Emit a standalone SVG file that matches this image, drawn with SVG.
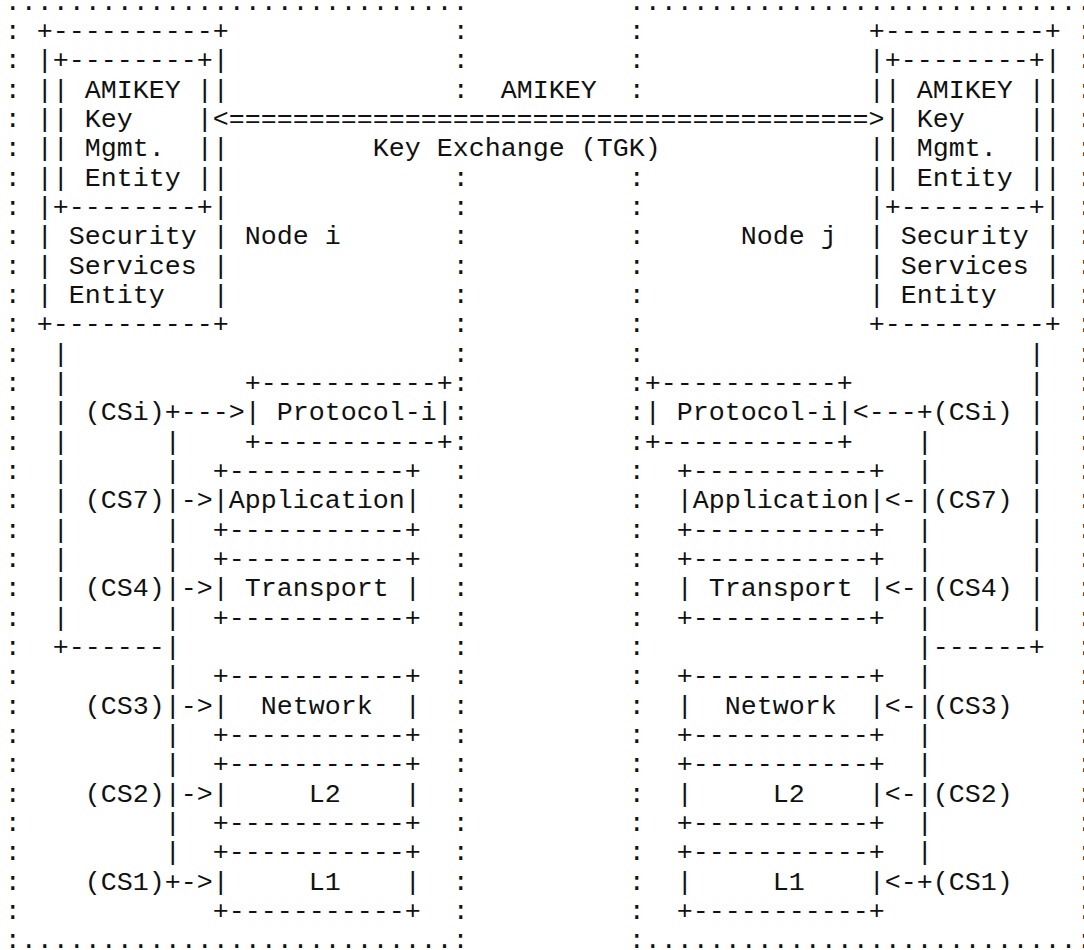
<svg xmlns="http://www.w3.org/2000/svg" width="1084" height="950" viewBox="0 0 1084 950">
  <!-- Character grid: column c starts at x = 4.7 + 16c, row n baseline at y = 9.7 + 29.333n -->
  <style>
    text { font-family: "Liberation Mono", "Courier New", monospace; font-size: 26.667px; fill: #111; white-space: pre; }
  </style>
  <rect width="1084" height="950" fill="#ffffff"/>

  <!-- Node i: dotted frame and label -->
  <g id="node-i">
    <text x="4.7" y="9.7">.............................</text>
    <text>
      <tspan x="4.7" y="39.0">:</tspan><tspan x="4.7" y="68.4">:</tspan><tspan x="4.7" y="97.7">:</tspan><tspan x="4.7" y="127.0">:</tspan><tspan x="4.7" y="156.4">:</tspan><tspan x="4.7" y="185.7">:</tspan><tspan x="4.7" y="215.0">:</tspan><tspan x="4.7" y="244.4">:</tspan><tspan x="4.7" y="273.7">:</tspan><tspan x="4.7" y="303.0">:</tspan><tspan x="4.7" y="332.4">:</tspan><tspan x="4.7" y="361.7">:</tspan><tspan x="4.7" y="391.0">:</tspan><tspan x="4.7" y="420.4">:</tspan><tspan x="4.7" y="449.7">:</tspan><tspan x="4.7" y="479.0">:</tspan><tspan x="4.7" y="508.4">:</tspan><tspan x="4.7" y="537.7">:</tspan><tspan x="4.7" y="567.0">:</tspan><tspan x="4.7" y="596.4">:</tspan><tspan x="4.7" y="625.7">:</tspan><tspan x="4.7" y="655.0">:</tspan><tspan x="4.7" y="684.4">:</tspan><tspan x="4.7" y="713.7">:</tspan><tspan x="4.7" y="743.0">:</tspan><tspan x="4.7" y="772.4">:</tspan><tspan x="4.7" y="801.7">:</tspan><tspan x="4.7" y="831.0">:</tspan><tspan x="4.7" y="860.4">:</tspan><tspan x="4.7" y="889.7">:</tspan><tspan x="4.7" y="919.0">:</tspan>
    </text>
    <text>
      <tspan x="452.7" y="39.0">:</tspan><tspan x="452.7" y="68.4">:</tspan><tspan x="452.7" y="97.7">:</tspan><tspan x="452.7" y="185.7">:</tspan><tspan x="452.7" y="215.0">:</tspan><tspan x="452.7" y="244.4">:</tspan><tspan x="452.7" y="273.7">:</tspan><tspan x="452.7" y="303.0">:</tspan><tspan x="452.7" y="332.4">:</tspan><tspan x="452.7" y="361.7">:</tspan><tspan x="452.7" y="391.0">:</tspan><tspan x="452.7" y="420.4">:</tspan><tspan x="452.7" y="449.7">:</tspan><tspan x="452.7" y="479.0">:</tspan><tspan x="452.7" y="508.4">:</tspan><tspan x="452.7" y="537.7">:</tspan><tspan x="452.7" y="567.0">:</tspan><tspan x="452.7" y="596.4">:</tspan><tspan x="452.7" y="625.7">:</tspan><tspan x="452.7" y="655.0">:</tspan><tspan x="452.7" y="684.4">:</tspan><tspan x="452.7" y="713.7">:</tspan><tspan x="452.7" y="743.0">:</tspan><tspan x="452.7" y="772.4">:</tspan><tspan x="452.7" y="801.7">:</tspan><tspan x="452.7" y="831.0">:</tspan><tspan x="452.7" y="860.4">:</tspan><tspan x="452.7" y="889.7">:</tspan><tspan x="452.7" y="919.0">:</tspan>
    </text>
    <text x="4.7" y="948.4">:...........................:</text>
    <text x="244.7" y="244.4">Node i</text>
  </g>

  <!-- Node j: dotted frame and label -->
  <g id="node-j">
    <text x="628.7" y="9.7">.............................</text>
    <text>
      <tspan x="628.7" y="39.0">:</tspan><tspan x="628.7" y="68.4">:</tspan><tspan x="628.7" y="97.7">:</tspan><tspan x="628.7" y="185.7">:</tspan><tspan x="628.7" y="215.0">:</tspan><tspan x="628.7" y="244.4">:</tspan><tspan x="628.7" y="273.7">:</tspan><tspan x="628.7" y="303.0">:</tspan><tspan x="628.7" y="332.4">:</tspan><tspan x="628.7" y="361.7">:</tspan><tspan x="628.7" y="391.0">:</tspan><tspan x="628.7" y="420.4">:</tspan><tspan x="628.7" y="449.7">:</tspan><tspan x="628.7" y="479.0">:</tspan><tspan x="628.7" y="508.4">:</tspan><tspan x="628.7" y="537.7">:</tspan><tspan x="628.7" y="567.0">:</tspan><tspan x="628.7" y="596.4">:</tspan><tspan x="628.7" y="625.7">:</tspan><tspan x="628.7" y="655.0">:</tspan><tspan x="628.7" y="684.4">:</tspan><tspan x="628.7" y="713.7">:</tspan><tspan x="628.7" y="743.0">:</tspan><tspan x="628.7" y="772.4">:</tspan><tspan x="628.7" y="801.7">:</tspan><tspan x="628.7" y="831.0">:</tspan><tspan x="628.7" y="860.4">:</tspan><tspan x="628.7" y="889.7">:</tspan><tspan x="628.7" y="919.0">:</tspan>
    </text>
    <text>
      <tspan x="1076.7" y="39.0">:</tspan><tspan x="1076.7" y="68.4">:</tspan><tspan x="1076.7" y="97.7">:</tspan><tspan x="1076.7" y="127.0">:</tspan><tspan x="1076.7" y="156.4">:</tspan><tspan x="1076.7" y="185.7">:</tspan><tspan x="1076.7" y="215.0">:</tspan><tspan x="1076.7" y="244.4">:</tspan><tspan x="1076.7" y="273.7">:</tspan><tspan x="1076.7" y="303.0">:</tspan><tspan x="1076.7" y="332.4">:</tspan><tspan x="1076.7" y="361.7">:</tspan><tspan x="1076.7" y="391.0">:</tspan><tspan x="1076.7" y="420.4">:</tspan><tspan x="1076.7" y="449.7">:</tspan><tspan x="1076.7" y="479.0">:</tspan><tspan x="1076.7" y="508.4">:</tspan><tspan x="1076.7" y="537.7">:</tspan><tspan x="1076.7" y="567.0">:</tspan><tspan x="1076.7" y="596.4">:</tspan><tspan x="1076.7" y="625.7">:</tspan><tspan x="1076.7" y="655.0">:</tspan><tspan x="1076.7" y="684.4">:</tspan><tspan x="1076.7" y="713.7">:</tspan><tspan x="1076.7" y="743.0">:</tspan><tspan x="1076.7" y="772.4">:</tspan><tspan x="1076.7" y="801.7">:</tspan><tspan x="1076.7" y="831.0">:</tspan><tspan x="1076.7" y="860.4">:</tspan><tspan x="1076.7" y="889.7">:</tspan><tspan x="1076.7" y="919.0">:</tspan>
    </text>
    <text x="628.7" y="948.4">:...........................:</text>
    <text x="740.7" y="244.4">Node j</text>
  </g>

  <!-- Security Services Entity, node i -->
  <g id="sse-i">
    <text x="36.7" y="39.0">+----------+</text>
    <text x="36.7" y="68.4">|          |</text>
    <text x="36.7" y="97.7">|          |</text>
    <text x="36.7" y="127.0">|</text>
    <text x="36.7" y="156.4">|          |</text>
    <text x="36.7" y="185.7">|          |</text>
    <text x="36.7" y="215.0">|          |</text>
    <text x="36.7" y="244.4">| Security |</text>
    <text x="36.7" y="273.7">| Services |</text>
    <text x="36.7" y="303.0">| Entity   |</text>
    <text x="36.7" y="332.4">+----------+</text>
  </g>

  <!-- AMIKEY Key Mgmt. Entity, node i -->
  <g id="amikey-i">
    <text x="52.7" y="68.4">+--------+</text>
    <text x="52.7" y="97.7">| AMIKEY |</text>
    <text x="52.7" y="127.0">| Key    |</text>
    <text x="52.7" y="156.4">| Mgmt.  |</text>
    <text x="52.7" y="185.7">| Entity |</text>
    <text x="52.7" y="215.0">+--------+</text>
  </g>

  <!-- Security Services Entity, node j -->
  <g id="sse-j">
    <text x="868.7" y="39.0">+----------+</text>
    <text x="868.7" y="68.4">|          |</text>
    <text x="868.7" y="97.7">|          |</text>
    <text x="1044.7" y="127.0">|</text>
    <text x="868.7" y="156.4">|          |</text>
    <text x="868.7" y="185.7">|          |</text>
    <text x="868.7" y="215.0">|          |</text>
    <text x="868.7" y="244.4">| Security |</text>
    <text x="868.7" y="273.7">| Services |</text>
    <text x="868.7" y="303.0">| Entity   |</text>
    <text x="868.7" y="332.4">+----------+</text>
  </g>

  <!-- AMIKEY Key Mgmt. Entity, node j -->
  <g id="amikey-j">
    <text x="884.7" y="68.4">+--------+</text>
    <text x="884.7" y="97.7">| AMIKEY |</text>
    <text x="884.7" y="127.0">| Key    |</text>
    <text x="884.7" y="156.4">| Mgmt.  |</text>
    <text x="884.7" y="185.7">| Entity |</text>
    <text x="884.7" y="215.0">+--------+</text>
  </g>

  <!-- Protocol stack, node i -->
  <g id="protocol-i">
    <text x="244.7" y="391.0">+-----------+</text>
    <text x="244.7" y="420.4">| Protocol-i|</text>
    <text x="244.7" y="449.7">+-----------+</text>
  </g>
  <g id="application-i">
    <text x="212.7" y="479.0">+-----------+</text>
    <text x="212.7" y="508.4">|Application|</text>
    <text x="212.7" y="537.7">+-----------+</text>
  </g>
  <g id="transport-i">
    <text x="212.7" y="567.0">+-----------+</text>
    <text x="212.7" y="596.4">| Transport |</text>
    <text x="212.7" y="625.7">+-----------+</text>
  </g>
  <g id="network-i">
    <text x="212.7" y="684.4">+-----------+</text>
    <text x="212.7" y="713.7">|  Network  |</text>
    <text x="212.7" y="743.0">+-----------+</text>
  </g>
  <g id="l2-i">
    <text x="212.7" y="772.4">+-----------+</text>
    <text x="212.7" y="801.7">|     L2    |</text>
    <text x="212.7" y="831.0">+-----------+</text>
  </g>
  <g id="l1-i">
    <text x="212.7" y="860.4">+-----------+</text>
    <text x="212.7" y="889.7">|     L1    |</text>
    <text x="212.7" y="919.0">+-----------+</text>
  </g>

  <!-- Protocol stack, node j -->
  <g id="protocol-j">
    <text x="644.7" y="391.0">+-----------+</text>
    <text x="644.7" y="420.4">| Protocol-i|</text>
    <text x="644.7" y="449.7">+-----------+</text>
  </g>
  <g id="application-j">
    <text x="676.7" y="479.0">+-----------+</text>
    <text x="676.7" y="508.4">|Application|</text>
    <text x="676.7" y="537.7">+-----------+</text>
  </g>
  <g id="transport-j">
    <text x="676.7" y="567.0">+-----------+</text>
    <text x="676.7" y="596.4">| Transport |</text>
    <text x="676.7" y="625.7">+-----------+</text>
  </g>
  <g id="network-j">
    <text x="676.7" y="684.4">+-----------+</text>
    <text x="676.7" y="713.7">|  Network  |</text>
    <text x="676.7" y="743.0">+-----------+</text>
  </g>
  <g id="l2-j">
    <text x="676.7" y="772.4">+-----------+</text>
    <text x="676.7" y="801.7">|     L2    |</text>
    <text x="676.7" y="831.0">+-----------+</text>
  </g>
  <g id="l1-j">
    <text x="676.7" y="860.4">+-----------+</text>
    <text x="676.7" y="889.7">|     L1    |</text>
    <text x="676.7" y="919.0">+-----------+</text>
  </g>

  <!-- Connectors -->
  <g id="connectors">
    <!-- AMIKEY key exchange between the two key management entities -->
    <text x="500.7" y="97.7">AMIKEY</text>
    <text x="212.7" y="127.0">&lt;========================================&gt;</text>
    <text x="372.7" y="156.4">Key Exchange (TGK)</text>

    <!-- node i: security services bus -->
    <text>
      <tspan x="52.7" y="361.7">|</tspan><tspan x="52.7" y="391.0">|</tspan><tspan x="52.7" y="420.4">|</tspan><tspan x="52.7" y="449.7">|</tspan><tspan x="52.7" y="479.0">|</tspan><tspan x="52.7" y="508.4">|</tspan><tspan x="52.7" y="537.7">|</tspan><tspan x="52.7" y="567.0">|</tspan><tspan x="52.7" y="596.4">|</tspan><tspan x="52.7" y="625.7">|</tspan>
    </text>
    <text x="52.7" y="655.0">+------</text>
    <text x="84.7" y="420.4">(CSi)+---&gt;</text>
    <text x="84.7" y="508.4">(CS7)|-&gt;</text>
    <text x="84.7" y="596.4">(CS4)|-&gt;</text>
    <text x="84.7" y="713.7">(CS3)|-&gt;</text>
    <text x="84.7" y="801.7">(CS2)|-&gt;</text>
    <text x="84.7" y="889.7">(CS1)+-&gt;</text>
    <text>
      <tspan x="164.7" y="449.7">|</tspan><tspan x="164.7" y="479.0">|</tspan><tspan x="164.7" y="537.7">|</tspan><tspan x="164.7" y="567.0">|</tspan><tspan x="164.7" y="625.7">|</tspan><tspan x="164.7" y="655.0">|</tspan><tspan x="164.7" y="684.4">|</tspan><tspan x="164.7" y="743.0">|</tspan><tspan x="164.7" y="772.4">|</tspan><tspan x="164.7" y="831.0">|</tspan><tspan x="164.7" y="860.4">|</tspan>
    </text>

    <!-- node j: security services bus -->
    <text>
      <tspan x="1028.7" y="361.7">|</tspan><tspan x="1028.7" y="391.0">|</tspan><tspan x="1028.7" y="420.4">|</tspan><tspan x="1028.7" y="449.7">|</tspan><tspan x="1028.7" y="479.0">|</tspan><tspan x="1028.7" y="508.4">|</tspan><tspan x="1028.7" y="537.7">|</tspan><tspan x="1028.7" y="567.0">|</tspan><tspan x="1028.7" y="596.4">|</tspan><tspan x="1028.7" y="625.7">|</tspan>
    </text>
    <text x="932.7" y="655.0">------+</text>
    <text x="852.7" y="420.4">&lt;---+(CSi)</text>
    <text x="884.7" y="508.4">&lt;-|(CS7)</text>
    <text x="884.7" y="596.4">&lt;-|(CS4)</text>
    <text x="884.7" y="713.7">&lt;-|(CS3)</text>
    <text x="884.7" y="801.7">&lt;-|(CS2)</text>
    <text x="884.7" y="889.7">&lt;-+(CS1)</text>
    <text>
      <tspan x="916.7" y="449.7">|</tspan><tspan x="916.7" y="479.0">|</tspan><tspan x="916.7" y="537.7">|</tspan><tspan x="916.7" y="567.0">|</tspan><tspan x="916.7" y="625.7">|</tspan><tspan x="916.7" y="655.0">|</tspan><tspan x="916.7" y="684.4">|</tspan><tspan x="916.7" y="743.0">|</tspan><tspan x="916.7" y="772.4">|</tspan><tspan x="916.7" y="831.0">|</tspan><tspan x="916.7" y="860.4">|</tspan>
    </text>
  </g>
</svg>
